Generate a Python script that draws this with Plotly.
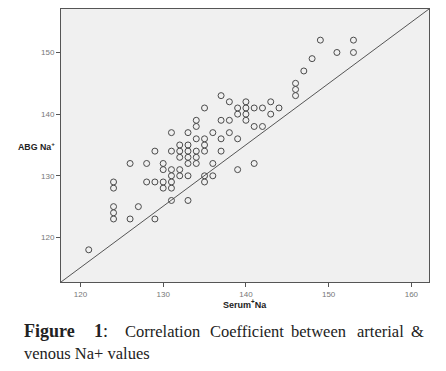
import plotly.graph_objects as go

# Serum Na (x) and ABG Na (y) values
serum_na = [121,
            124, 124, 124, 124, 124,
            126, 127, 129,
            126, 128, 130,
            128, 129, 130, 131,
            130, 131,
            130, 131, 132,
            131, 132, 133,
            131, 133,
            135, 135, 136,
            136, 133, 134,
            129, 131, 132, 133, 134, 135,
            132, 133, 134,
            132, 133, 135,
            134, 135,
            131, 133,
            134, 134,
            135,
            136, 137, 137,
            137, 138,
            138, 139,
            139,
            139, 141,
            137, 138, 140, 143,
            139, 140, 141, 142, 144,
            140, 143,
            140,
            141, 142,
            146, 146, 146,
            147, 148, 149, 153, 151, 153]
abg_na = [118,
          129, 128, 125, 124, 123,
          123, 125, 123,
          132, 132, 132,
          129, 129, 129, 129,
          128, 128,
          131, 131, 131,
          130, 130, 130,
          126, 126,
          130, 129, 130,
          132, 132, 132,
          134, 134, 134, 134, 134, 134,
          133, 133, 133,
          135, 135, 135,
          136, 136,
          137, 137,
          138, 139,
          141,
          137, 136, 134,
          139, 139,
          137, 136,
          140,
          131, 132,
          143, 142, 142, 142,
          141, 141, 141, 141, 141,
          140, 140,
          139,
          138, 138,
          145, 144, 143,
          147, 149, 152, 152, 150, 150]

x_range = [117.65, 162.13]
y_range = [112.78, 157.05]
x_ticks = [120, 130, 140, 150, 160]
y_ticks = [120, 130, 140, 150]

fig = go.Figure()
fig.add_trace(go.Scatter(
    x=x_range, y=y_range, mode="lines",
    line=dict(color="#555555", width=1), hoverinfo="skip", showlegend=False))
fig.add_trace(go.Scatter(
    x=serum_na, y=abg_na, mode="markers",
    marker=dict(symbol="circle-open", size=6, color="#4a4a4a", line=dict(width=1)),
    showlegend=False))

axis_common = dict(
    showgrid=False, zeroline=False, showline=True, mirror=True,
    linecolor="#555555", linewidth=1, ticks="outside", ticklen=4,
    tickcolor="#555555", tickfont=dict(family="Arial", size=8, color="#777777"))
fig.update_xaxes(range=x_range, tickvals=x_ticks, **axis_common)
fig.update_yaxes(range=y_range, tickvals=y_ticks, **axis_common)

fig.update_layout(
    width=446, height=371,
    margin=dict(l=61, r=17, t=9, b=89),
    plot_bgcolor="#f0f0f0", paper_bgcolor="white",
    font=dict(family="Arial"),
)

fig.add_annotation(text="<b>ABG Na<sup>+</sup></b>", xref="paper", yref="paper",
                   x=(57 - 61) / 368, y=0.5, xanchor="right", yanchor="middle", showarrow=False,
                   font=dict(family="Arial", size=8.8, color="#222222"))
fig.add_annotation(text="<b>Serum<sup>+</sup>Na</b>", xref="paper", yref="paper",
                   x=0.5, y=-(304 - 282) / 273, xanchor="center", yanchor="middle", showarrow=False,
                   font=dict(family="Arial", size=9, color="#222222"))

# Caption (justified first line emulated with word positions)
cap_words = ["<b>Figure</b>", "<b>1</b>:", "Correlation", "Coefficient", "between", "arterial", "&amp;"]
cap_x = [22, 92, 123, 208, 289, 355, 409]
cap_size = [18, 18, 16.5, 16.5, 16.5, 16.5, 16.5]
for w, px, fs in zip(cap_words, cap_x, cap_size):
    fig.add_annotation(text=w, xref="paper", yref="paper",
                       x=(px - 61) / 368, y=-(331 - 282) / 273,
                       xanchor="left", yanchor="middle", showarrow=False,
                       font=dict(family="Liberation Serif", size=fs, color="#222222"))
fig.add_annotation(text="venous Na+ values", xref="paper", yref="paper",
                   x=(22 - 61) / 368, y=-(353 - 282) / 273,
                   xanchor="left", yanchor="middle", showarrow=False,
                   font=dict(family="Liberation Serif", size=16.5, color="#222222"))

fig.write_html("out.html", config={"displayModeBar": False},
               post_script="document.body.style.margin='0';")
